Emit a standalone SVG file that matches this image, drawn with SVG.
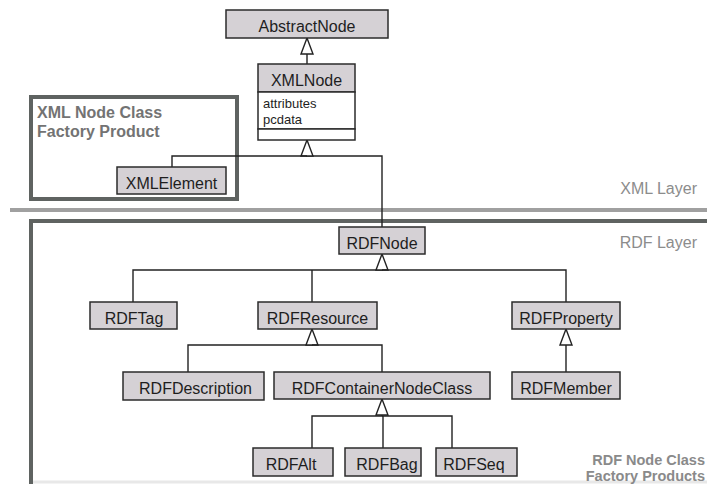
<svg xmlns="http://www.w3.org/2000/svg" width="707" height="484" viewBox="0 0 707 484">
  <style>
    .box { fill: #d5d1d5; stroke: #2b2b2b; stroke-width: 1.5; }
    .plain { fill: #ffffff; stroke: #2b2b2b; stroke-width: 1.5; }
    .lbl { font-family: "Liberation Sans", Arial, sans-serif; font-size: 16px; fill: #1e1e1e; text-anchor: middle; }
    .attr { font-family: "Liberation Sans", Arial, sans-serif; font-size: 13px; fill: #1e1e1e; }
    .layer { font-family: "Liberation Sans", Arial, sans-serif; font-size: 16px; fill: #8c8c8c; text-anchor: end; }
    .title { font-family: "Liberation Sans", Arial, sans-serif; font-size: 16px; font-weight: bold; fill: #737373; }
    .title2 { font-family: "Liberation Sans", Arial, sans-serif; font-size: 14.5px; font-weight: bold; fill: #8a8a8a; text-anchor: end; }
    .frame { fill: none; stroke: #5f6361; stroke-width: 4; }
    .edge { fill: none; stroke: #222222; stroke-width: 1.4; }
    .gen { marker-end: url(#hollow); }
  </style>
  <defs>
    <marker id="hollow" markerUnits="userSpaceOnUse" viewBox="-1 -1 18 14" markerWidth="18" markerHeight="14" refX="16" refY="6" orient="auto">
      <path d="M0,0 L16,6 L0,12 Z" fill="#ffffff" stroke="#222222" stroke-width="1.4" stroke-linejoin="miter"/>
    </marker>
  </defs>

  <!-- layer frames and separator -->
  <g id="layers">
    <rect id="xml-factory-frame" class="frame" x="31" y="97" width="206" height="102"/>
    <text class="title" x="37" y="118">XML Node Class</text>
    <text class="title" x="37" y="137">Factory Product</text>
    <line x1="10" y1="210" x2="707" y2="210" stroke="#a0a0a0" stroke-width="4"/>
    <text class="layer" x="697" y="194">XML Layer</text>
    <rect id="rdf-layer-frame" class="frame" x="31" y="221" width="700" height="300"/>
    <line x1="33" y1="482" x2="707" y2="482" stroke="#e8e8e8" stroke-width="3"/>
    <text class="layer" x="697" y="248">RDF Layer</text>
    <text class="title2" x="705" y="465">RDF Node Class</text>
    <text class="title2" x="705" y="481">Factory Products</text>
  </g>

  <!-- inheritance connectors -->
  <g id="connectors">
    <path class="edge gen" d="M307,64 V38"/>
    <path class="edge gen" d="M382,227 V156 H307 V140"/>
    <path class="edge" d="M172,167 V156 H307"/>
    <path class="edge gen" d="M133,302 V270 H382 V254"/>
    <path class="edge" d="M312,302 V270"/>
    <path class="edge" d="M566,302 V270 H382"/>
    <path class="edge gen" d="M188,372 V345 H312 V329"/>
    <path class="edge" d="M382,372 V345 H312"/>
    <path class="edge gen" d="M566,372 V329"/>
    <path class="edge gen" d="M312,448 V416 H382 V399"/>
    <path class="edge" d="M383,448 V416"/>
    <path class="edge" d="M452,448 V416 H382"/>
  </g>

  <g id="AbstractNode">
    <rect class="box" x="226" y="10" width="162" height="28"/>
    <text class="lbl" x="307" y="31.5">AbstractNode</text>
  </g>

  <g id="XMLNode">
    <rect class="box" x="258" y="64" width="97" height="28"/>
    <rect class="plain" x="258" y="92" width="97" height="37"/>
    <rect class="plain" x="258" y="129" width="97" height="11"/>
    <text class="lbl" x="306.5" y="86">XMLNode</text>
    <text class="attr" x="263" y="108">attributes</text>
    <text class="attr" x="263" y="124">pcdata</text>
  </g>

  <g id="XMLElement">
    <rect class="box" x="117" y="167" width="109" height="27"/>
    <text class="lbl" x="171.5" y="189">XMLElement</text>
  </g>

  <g id="RDFNode">
    <rect class="box" x="339" y="227" width="86" height="27"/>
    <text class="lbl" x="382" y="248.5">RDFNode</text>
  </g>

  <g id="RDFTag">
    <rect class="box" x="90" y="302" width="87" height="27"/>
    <text class="lbl" x="134" y="323.5">RDFTag</text>
  </g>

  <g id="RDFResource">
    <rect class="box" x="258" y="302" width="119" height="27"/>
    <text class="lbl" x="317.5" y="323.5">RDFResource</text>
  </g>

  <g id="RDFProperty">
    <rect class="box" x="512" y="302" width="108" height="27"/>
    <text class="lbl" x="566" y="323.5">RDFProperty</text>
  </g>

  <g id="RDFDescription">
    <rect class="box" x="123" y="372" width="141" height="28"/>
    <text class="lbl" x="195.5" y="394">RDFDescription</text>
  </g>

  <g id="RDFContainerNodeClass">
    <rect class="box" x="274" y="372" width="216" height="27"/>
    <text class="lbl" x="382" y="393.5">RDFContainerNodeClass</text>
  </g>

  <g id="RDFMember">
    <rect class="box" x="512" y="372" width="108" height="27"/>
    <text class="lbl" x="566" y="393.5">RDFMember</text>
  </g>

  <g id="RDFAlt">
    <rect class="box" x="253" y="448" width="80" height="28"/>
    <text class="lbl" x="291" y="470">RDFAlt</text>
  </g>

  <g id="RDFBag">
    <rect class="box" x="345" y="448" width="76" height="28"/>
    <text class="lbl" x="387" y="470">RDFBag</text>
  </g>

  <g id="RDFSeq">
    <rect class="box" x="436" y="448" width="81" height="28"/>
    <text class="lbl" x="474" y="470">RDFSeq</text>
  </g>
</svg>
